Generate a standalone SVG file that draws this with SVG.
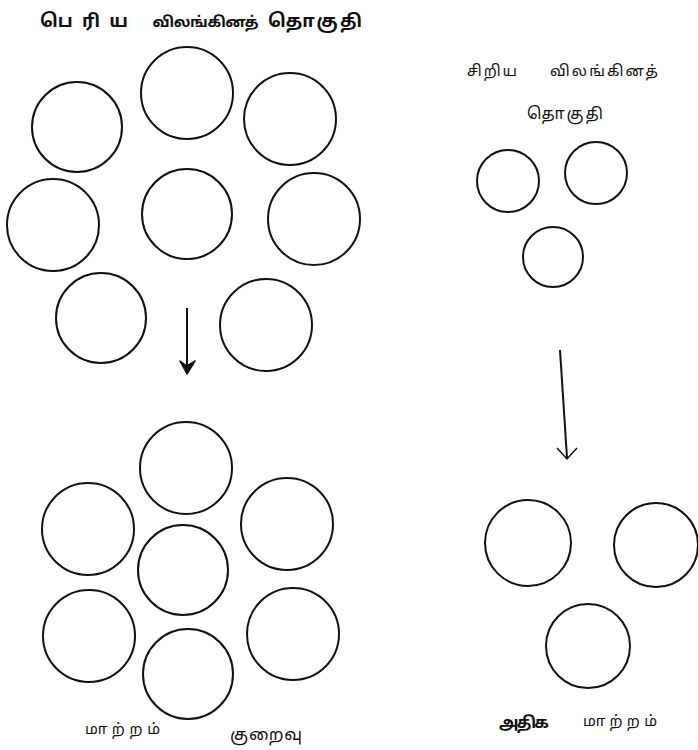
<svg xmlns="http://www.w3.org/2000/svg" width="698" height="750" viewBox="0 0 698 750">
<style>
  .c { fill: none; stroke: #111; stroke-width: 2; }
  .t { font-family: "Noto Sans Tamil", "Noto Sans", "Lato", sans-serif; fill: #111; }
  .b { font-weight: bold; }
  .a { stroke: #111; fill: none; }
</style>
<rect width="698" height="750" fill="#fff"/>
<g id="large-group-before">
  <text class="t b" x="40" y="27" font-size="18" textLength="88" lengthAdjust="spacing">பெரிய</text>
  <text class="t b" x="152" y="27" font-size="15" textLength="106" lengthAdjust="spacing">விலங்கினத்</text>
  <text class="t b" x="268" y="27" font-size="18" textLength="94" lengthAdjust="spacing">தொகுதி</text>
  <g id="L1"><circle class="c" cx="77" cy="127" r="45"/></g>
  <g id="L2"><circle class="c" cx="187" cy="93" r="46"/></g>
  <g id="L3"><circle class="c" cx="290" cy="119" r="46"/></g>
  <g id="L4"><circle class="c" cx="53" cy="225" r="46"/></g>
  <g id="L5"><circle class="c" cx="187" cy="214" r="45"/></g>
  <g id="L6"><circle class="c" cx="314" cy="219" r="46"/></g>
  <g id="L7"><circle class="c" cx="101" cy="318" r="45"/></g>
  <g id="L8"><circle class="c" cx="266" cy="325" r="46"/></g>
</g>
<g id="large-group-after">
  <g id="M1"><circle class="c" cx="186" cy="468" r="46"/></g>
  <g id="M2"><circle class="c" cx="88" cy="529" r="46"/></g>
  <g id="M3"><circle class="c" cx="287" cy="524" r="46"/></g>
  <g id="M4"><circle class="c" cx="183" cy="570" r="45"/></g>
  <g id="M5"><circle class="c" cx="89" cy="636" r="46"/></g>
  <g id="M6"><circle class="c" cx="293" cy="634" r="46"/></g>
  <g id="M7"><circle class="c" cx="188" cy="674" r="45"/></g>
  <text class="t" x="85" y="734" font-size="15" textLength="75" lengthAdjust="spacing">மாற்றம்</text>
  <text class="t" x="230" y="740" font-size="17" textLength="72" lengthAdjust="spacing">குறைவு</text>
</g>
<g id="small-group-before">
  <text class="t" x="467" y="76" font-size="15" textLength="50" lengthAdjust="spacing">சிறிய</text>
  <text class="t" x="550" y="76" font-size="15" textLength="108" lengthAdjust="spacing">விலங்கினத்</text>
  <text class="t" x="527" y="119" font-size="16" textLength="76" lengthAdjust="spacing">தொகுதி</text>
  <g id="S1"><circle class="c" cx="508" cy="181" r="31"/></g>
  <g id="S2"><circle class="c" cx="596" cy="173" r="31"/></g>
  <g id="S3"><circle class="c" cx="553" cy="257" r="30"/></g>
</g>
<g id="small-group-after">
  <g id="T1"><circle class="c" cx="528" cy="543" r="43"/></g>
  <g id="T2"><circle class="c" cx="656" cy="545" r="42"/></g>
  <g id="T3"><circle class="c" cx="588" cy="646" r="42"/></g>
  <text class="t b" x="499" y="728" font-size="16" textLength="50" lengthAdjust="spacing">அதிக</text>
  <text class="t" x="583" y="726" font-size="15" textLength="74" lengthAdjust="spacing">மாற்றம்</text>
</g>
<g id="connectors">
  <line class="a" x1="187" y1="308" x2="187" y2="370" stroke-width="2"/>
  <path d="M180,361 L187,374 L195,361 L187,366 Z" fill="#111" stroke="#111" stroke-width="1.5" stroke-linejoin="round"/>
  <line class="a" x1="560" y1="350" x2="567" y2="458" stroke-width="2"/>
  <polyline class="a" points="557,448 567,459 577,448" stroke-width="1.5"/>
</g>
</svg>
